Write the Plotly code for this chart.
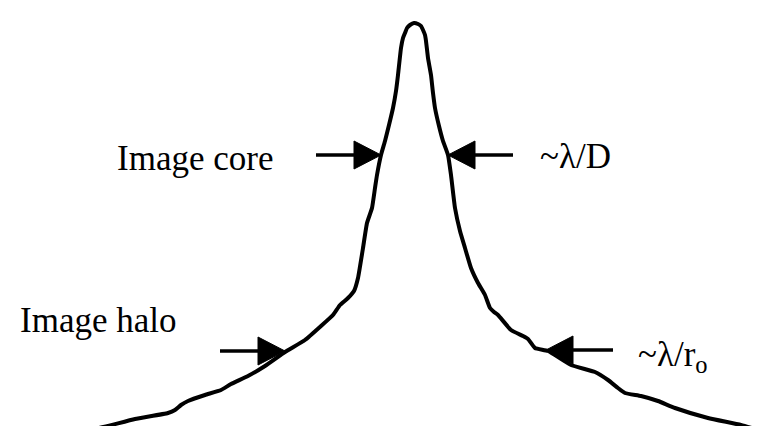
import plotly.graph_objects as go

# Profile of the star image (pixel-like units, y down)
profile_x = [82, 100, 127, 160, 167, 173, 180, 197, 213, 223, 240, 257, 277, 297, 313, 325,
             332, 340, 346, 350, 355, 359, 364, 367, 369, 373, 377, 381, 385, 388, 390, 393,
             395, 397, 399, 402, 406, 410, 413, 415, 417, 418, 420, 423, 425, 427, 431, 435,
             440, 443, 447, 452, 457, 463, 470, 477, 482, 486, 490, 503, 515, 520, 527, 540,
             563, 587, 600, 610, 617, 633, 650, 667, 700, 733, 757]
profile_y = [422, 418, 411, 405, 402, 397, 393, 387, 382, 376, 368, 358, 344, 332, 318, 307,
             297, 290, 283, 270, 240, 215, 200, 180, 167, 147, 133, 117, 100, 83, 67, 40,
             30, 25, 20, 17, 15, 16, 18, 22, 27, 33, 50, 67, 85, 100, 118, 133,
             147, 167, 200, 223, 240, 260, 275, 287, 300, 304, 307, 322, 328, 331, 340, 343,
             357, 364, 372, 380, 385, 388, 393, 400, 410, 417, 424]

# Arrows: tip position, direction (+1 points right, -1 points left), tail position
arrow_tip_x = [373, 440, 277, 538]
arrow_tip_y = [147, 147, 343, 342]
arrow_dir = [1, -1, 1, -1]
arrow_tail_x = [308, 505, 212, 605]

# Labels
label_text = ["Image core", "~λ/D", "Image halo", "~λ/r<sub>o</sub>"]
label_x = [107, 530, 10, 628]
label_y = [150, 148, 312, 348]

HEAD_LEN = 27
HEAD_HALF = 14

fig = go.Figure()
fig.add_trace(go.Scatter(x=profile_x, y=profile_y, mode="lines",
                         line=dict(color="black", width=4, shape="spline", smoothing=0.4),
                         hoverinfo="skip", showlegend=False))

shapes = []
for tx, ty, d, tail in zip(arrow_tip_x, arrow_tip_y, arrow_dir, arrow_tail_x):
    base = tx - d * HEAD_LEN
    shapes.append(dict(type="line", xref="x", yref="y", x0=tail, y0=ty, x1=base, y1=ty,
                       line=dict(color="black", width=3.5)))
    shapes.append(dict(type="path", xref="x", yref="y",
                       path=f"M {tx} {ty} L {base} {ty - HEAD_HALF} L {base} {ty + HEAD_HALF} Z",
                       fillcolor="black", line=dict(color="black", width=1)))

annotations = []
for t, x, y in zip(label_text, label_x, label_y):
    annotations.append(dict(text=t, x=x, y=y, xref="x", yref="y", xanchor="left",
                            yanchor="middle", showarrow=False,
                            font=dict(family="Liberation Serif, Times New Roman, serif",
                                      size=35, color="black")))

fig.update_layout(
    width=760, height=426,
    margin=dict(l=0, r=0, t=0, b=0),
    paper_bgcolor="white", plot_bgcolor="white",
    xaxis=dict(range=[0, 760], visible=False, fixedrange=True),
    yaxis=dict(range=[426, 0], visible=False, fixedrange=True),
    shapes=shapes, annotations=annotations,
)

fig.write_html("out.html")
